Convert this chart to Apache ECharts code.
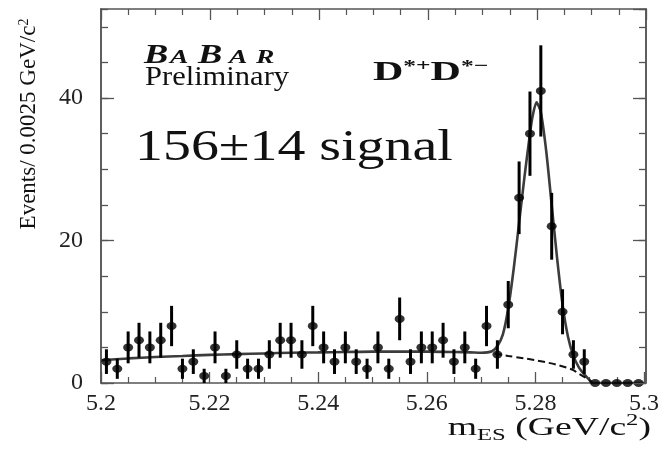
<!DOCTYPE html>
<html><head><meta charset="utf-8">
<script src="https://cdn.jsdelivr.net/npm/echarts@6/dist/echarts.min.js"></script>
<style>html,body{margin:0;padding:0;background:#fff}#wrap{position:relative;width:662px;height:450px}#c,#f{position:absolute;left:0;top:0;width:662px;height:450px}#f{pointer-events:none}</style>
</head><body><div id="wrap"><div id="c"></div><div id="f"></div></div>
<script>
// ---- data ----
const binCenters = [5.201,5.203,5.205,5.207,5.209,5.211,5.213,5.215,5.217,5.219,
  5.221,5.223,5.225,5.227,5.229,5.231,5.233,5.235,5.237,5.239,
  5.241,5.243,5.245,5.247,5.249,5.251,5.253,5.255,5.257,5.259,
  5.261,5.263,5.265,5.267,5.269,5.271,5.273,5.275,5.277,5.279,
  5.281,5.283,5.285,5.287,5.289,5.291,5.293,5.295,5.297,5.299];
const counts = [3,2,5,6,5,6,8,2,3,1,
  5,1,4,2,2,4,6,6,4,8,
  5,3,5,3,2,5,2,9,3,5,
  5,6,3,5,2,8,4,11,26,35,
  41,22,10,4,3,0,0,0,0,0];
const fitX = [5.200,5.205,5.210,5.215,5.220,5.225,5.230,5.235,5.240,5.245,5.250,5.255,5.260,5.265,5.268,5.270,5.272,5.273,5.274,5.275,5.276,5.277,5.278,5.279,5.2795,5.2802,5.281,5.282,5.283,5.284,5.285,5.286,5.287,5.288,5.289,5.290,5.2905,5.300];
const fitY = [3.2,3.45,3.65,3.8,3.95,4.05,4.15,4.25,4.3,4.35,4.4,4.4,4.4,4.35,4.3,4.25,4.45,5.2,6.8,10.5,16,22.5,29,35,37.5,39.4,38,32.5,25,17.5,11,6.5,3.8,2.2,1.2,0.4,0,0];
const bkgX = [5.2725,5.275,5.278,5.280,5.282,5.284,5.286,5.287,5.288,5.289,5.290,5.2905];
const bkgY = [4.15,3.8,3.45,3.2,2.9,2.55,2.1,1.8,1.3,0.85,0.35,0];
const xTickLabels = [5.2,5.22,5.24,5.26,5.28,5.3];
const yTickLabels = [0,20,40];

// ---- chart ----
const SERIF = '"Liberation Serif","Times New Roman",serif';
const AX = '#555';
const points = binCenters.map((x,i)=>[x,counts[i]]);
const errs = binCenters.map((x,i)=>[x,counts[i],Math.sqrt(counts[i])]);
const fitData = fitX.map((x,i)=>[x,fitY[i]]);
const bkgData = bkgX.map((x,i)=>[x,bkgY[i]]);

function xAxis(pos, labels){
  const a = {type:'value', position:pos, min:5.2, max:5.3, interval:0.02,
    axisLine:{show:true, onZero:false, lineStyle:{color:AX, width:1.5}},
    axisTick:{show:true, inside:true, length:11, lineStyle:{color:AX, width:1.3}},
    minorTick:{show:true, splitNumber:4, length:6, lineStyle:{color:AX, width:1.2}},
    splitLine:{show:false}, minorSplitLine:{show:false},
    axisLabel:{show:labels, margin:9, color:'#222', fontFamily:SERIF, fontSize:24}};
  if (labels) a.axisLabel.formatter = v=>{const t=xTickLabels.find(t=>Math.abs(t-v)<1e-6);return t===undefined?'':String(t);};
  return a;
}
function yAxis(pos, interval, len, labels){
  const a = {type:'value', position:pos, min:0, max:52.5, interval:interval,
    axisLine:{show:true, onZero:false, lineStyle:{color:AX, width:1.5}},
    axisTick:{show:true, inside:true, length:len, lineStyle:{color:AX, width:1.3}},
    splitLine:{show:false},
    axisLabel:{show:labels, margin:18, color:'#222', fontFamily:SERIF, fontSize:24, showMaxLabel:false}};
  if (labels) a.axisLabel.formatter = v=>{const t=yTickLabels.find(t=>Math.abs(t-v)<1e-6);return t===undefined?'':String(t);};
  return a;
}
function txt(x, baseline, text, size, opts){
  opts = opts||{};
  const st = {text:text, fontFamily:SERIF, fontSize:size, fontWeight:opts.bold?'bold':'normal',
      fontStyle:opts.italic?'italic':'normal', fill:'#111', align:'left', verticalAlign:'middle'};
  if (opts.rich) st.rich = opts.rich;
  return {type:'text', x:x, y:baseline-0.34*size, scaleX:opts.sx||1, z:50, style:st};
}

// main chart: data, fits, left and bottom axes, annotations
const chart = echarts.init(document.getElementById('c'));
chart.setOption({
  animation:false,
  grid:{left:101, right:16, top:9, bottom:67, containLabel:false},
  xAxis:[xAxis('bottom', true)],
  yAxis:[yAxis('left',5,7,false), yAxis('left',20,13,true)],
  series:[
    {type:'line', name:'fit', data:fitData, xAxisIndex:0, yAxisIndex:0, symbol:'none', smooth:0.25,
      lineStyle:{color:'#3c3c3c', width:2.6}, z:3},
    {type:'line', name:'background', data:bkgData, xAxisIndex:0, yAxisIndex:0, symbol:'none', smooth:0.3,
      lineStyle:{color:'#111', width:2, type:[7,4]}, z:3},
    {type:'custom', name:'errors', data:errs, xAxisIndex:0, yAxisIndex:0, encode:{x:0,y:1}, z:4,
      renderItem:(params, api)=>{
        const x=api.value(0), y=api.value(1), e=api.value(2);
        if(!(e>0)) return null;
        const p1=api.coord([x,y-e]), p2=api.coord([x,y+e]);
        return {type:'line', shape:{x1:p1[0],y1:p1[1],x2:p2[0],y2:p2[1]}, style:{stroke:'#000', lineWidth:3}};
      }},
    {type:'scatter', name:'data', data:points, xAxisIndex:0, yAxisIndex:0, symbol:'circle', symbolSize:[10,8],
      itemStyle:{color:'#000'}, clip:false, z:5}
  ],
  graphic:[
    txt(144, 65, 'B', 27, {bold:true, italic:true, sx:1.35}),
    txt(170, 65, 'A', 19, {bold:true, italic:true, sx:1.45}),
    txt(198, 65, 'B', 27, {bold:true, italic:true, sx:1.35}),
    txt(229, 65, 'A', 19, {bold:true, italic:true, sx:1.45}),
    txt(256, 65, 'R', 19, {bold:true, italic:true, sx:1.45}),
    txt(145, 87, 'Preliminary', 27, {sx:1.13}),
    txt(373, 82, '{d|D}{s|*+}{d|D}{s|*\u2212}', 28, {bold:true, sx:1.5,
      rich:{d:{fontFamily:SERIF, fontSize:28, fontWeight:'bold', lineHeight:28, fill:'#111'},
            s:{fontFamily:SERIF, fontSize:17, fontWeight:'bold', lineHeight:17, verticalAlign:'top', fill:'#111'}}}),
    txt(135, 163, '156\u00b114 signal', 44, {sx:1.27}),
    {type:'text', x:29, y:124, rotation:Math.PI/2, z:50,
      style:{text:'Events/ 0.0025 GeV/c{sup|2}', fontFamily:SERIF, fontSize:23, fill:'#111', align:'center', verticalAlign:'middle',
        rich:{sup:{fontFamily:SERIF, fontSize:14, lineHeight:14, verticalAlign:'top', fill:'#111'}}}},
    {type:'text', x:651, y:428, z:50, scaleX:1.45,
      style:{text:'m{sub|ES} (GeV/c{sup|2})', fontFamily:SERIF, fontSize:26, lineHeight:32, fill:'#111', align:'right', verticalAlign:'middle',
        rich:{sub:{fontFamily:SERIF, fontSize:17, lineHeight:17, verticalAlign:'bottom', fill:'#111'},
              sup:{fontFamily:SERIF, fontSize:17, lineHeight:17, verticalAlign:'top', fill:'#111'}}}}
  ]
});

// overlay chart: mirrored top and right axes of the frame (same scales, no labels)
const frame = echarts.init(document.getElementById('f'));
frame.setOption({
  animation:false,
  grid:{left:101, right:16, top:9, bottom:67, containLabel:false},
  xAxis:[xAxis('top', false)],
  yAxis:[yAxis('right',5,7,false), yAxis('right',20,13,false)],
  series:[{type:'scatter', data:[], xAxisIndex:0, yAxisIndex:0, silent:true}]
});
</script></body></html>
